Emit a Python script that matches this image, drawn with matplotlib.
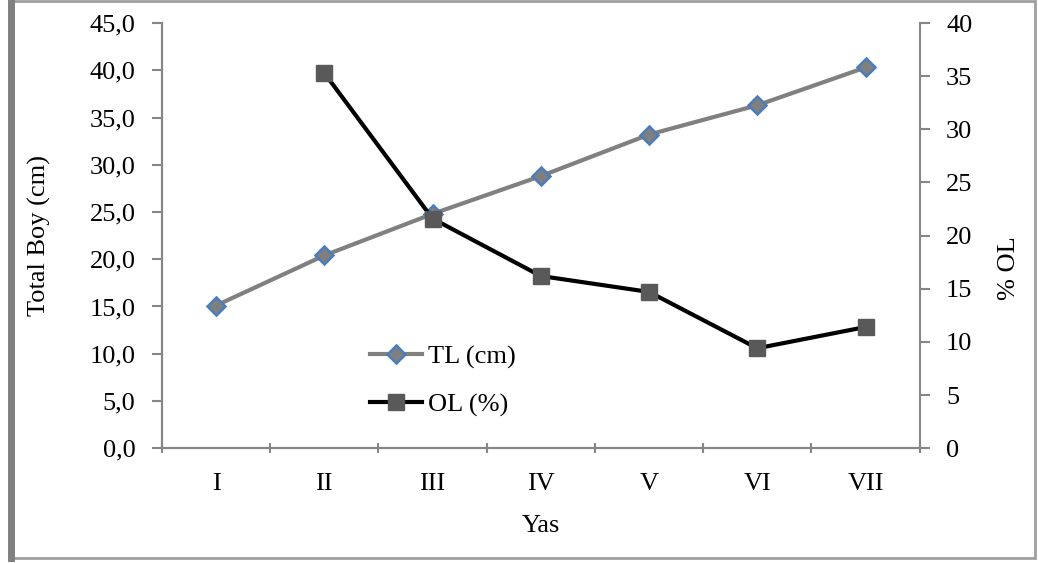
import numpy as np
import matplotlib
matplotlib.use("Agg")
import matplotlib.pyplot as plt
from matplotlib.patches import Rectangle
from matplotlib.lines import Line2D
from matplotlib.ticker import FuncFormatter

plt.rcParams['font.family'] = ['Liberation Serif', 'DejaVu Serif']

ages = ['I', 'II', 'III', 'IV', 'V', 'VI', 'VII']
tl_cm = [15.1, 20.4, 24.8, 28.8, 33.2, 36.3, 40.3]
ol_pct = [np.nan, 35.3, 21.6, 16.2, 14.7, 9.4, 11.4]

fig = plt.figure(figsize=(10.38, 5.63), dpi=100)
ax = fig.add_axes([0.156, 0.204, 0.730, 0.755])
ax2 = ax.twinx()

x = np.arange(len(ages))
fs = 19
axis_grey = '#868686'

l1, = ax.plot(x, tl_cm, color='#808080', lw=3, marker='D', ms=9,
              mfc='#7f7f7f', mec='#4a7ebb', mew=1.8, label='TL (cm)', zorder=3)
l2, = ax2.plot(x, ol_pct, color='black', lw=3, marker='s', ms=12,
               mfc='#595959', mec='#595959', label='OL (%)', zorder=3)

ax.set_xlim(-0.5, len(ages) - 0.5)
ax.set_ylim(0, 45)
ax.set_yticks(np.arange(0, 46, 5))
ax.yaxis.set_major_formatter(FuncFormatter(lambda v, p: f'{v:.1f}'.replace('.', ',')))
ax2.set_ylim(0, 40)
ax2.set_yticks(np.arange(0, 41, 5))

ax.set_xticks(np.arange(-0.5, len(ages), 1))
ax.set_xticklabels([])
ax.set_xticks(x, minor=True)
ax.set_xticklabels(ages, minor=True)
ax.tick_params(axis='x', which='minor', length=0, pad=18, labelsize=fs)
ax.tick_params(axis='x', which='major', length=7, width=1.5, color=axis_grey, direction='inout')
ax.tick_params(axis='y', length=7, width=1.5, color=axis_grey, labelsize=fs, pad=12)
ax2.tick_params(axis='y', length=7, width=1.5, color=axis_grey, labelsize=fs, pad=12)

for a in (ax, ax2):
    a.spines['top'].set_visible(False)
    for s in ('left', 'right', 'bottom'):
        a.spines[s].set_color(axis_grey)
        a.spines[s].set_linewidth(1.5)
ax.spines['right'].set_visible(False)

ax.set_ylabel('Total Boy (cm)', fontsize=fs)
ax.yaxis.set_label_coords(-0.147, 0.5)
ax2.set_ylabel('% OL', fontsize=fs, rotation=90)
ax2.yaxis.set_label_coords(1.104, 0.424)
ax.set_xlabel('Yas', fontsize=fs, labelpad=14)

ax.legend(handles=[l1, l2], loc='upper left', bbox_to_anchor=(0.274, 0.243),
          frameon=False, fontsize=fs, handlelength=2.0, handletextpad=0.2,
          labelspacing=0.92, borderpad=0, borderaxespad=0)

# outer chart frame
fig.patches.append(Rectangle((0.010, 0.008), 0.987, 0.99, transform=fig.transFigure,
                             fill=False, ec='#a0a0a0', lw=2))
fig.lines.append(Line2D([0.011, 0.011], [0.008, 1.0], transform=fig.transFigure,
                        color='#808080', lw=5))

fig.savefig('out.png', dpi=100)
